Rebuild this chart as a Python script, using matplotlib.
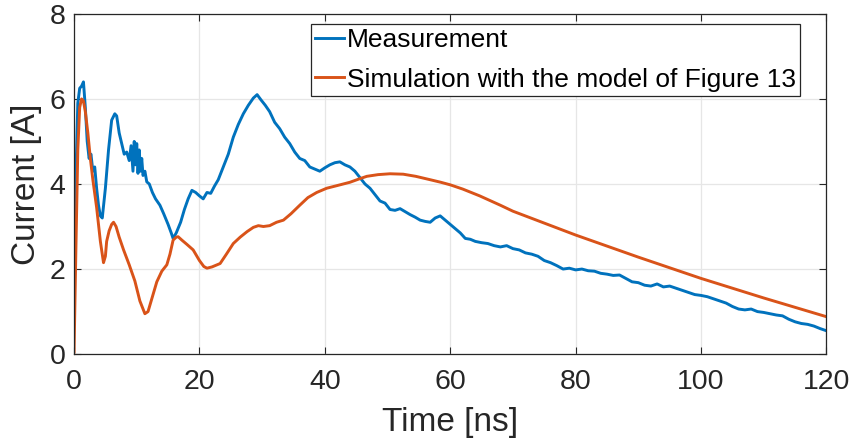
import matplotlib
matplotlib.use("Agg")
import matplotlib.pyplot as plt

# Measurement (blue)
meas_t = [0.0, 0.3, 0.6, 0.9, 1.2, 1.5, 1.8, 2.1, 2.4, 2.7, 3.0, 3.3, 3.6, 3.9, 4.2, 4.5,
          5.0, 5.5, 6.0, 6.5, 6.8, 7.2, 7.6, 8.0, 8.4, 8.8, 9.1, 9.4, 9.6, 9.8, 10.0,
          10.2, 10.4, 10.6, 10.8, 11.0, 11.3, 11.6, 12.0, 12.5, 13.0, 13.7, 14.3, 15.0,
          15.5, 15.8, 16.3, 17.0, 17.6, 18.2, 18.8, 19.4, 20.0, 20.6, 21.2, 21.8, 22.4,
          23.0, 23.8, 24.6, 25.4, 26.2, 27.0, 27.8, 28.6, 29.2, 29.8, 30.5, 31.2, 32.0,
          32.8, 33.6, 34.4, 35.2, 36.0, 36.8, 37.6, 38.4, 39.2, 40.0, 40.8, 41.6, 42.4,
          43.2, 44.0, 44.8, 45.6, 46.4, 47.2, 48.0, 48.8, 49.6, 50.4, 51.2, 52.0, 52.8,
          53.6, 54.4, 55.2, 56.0, 56.8, 57.6, 58.4, 59.2, 60.0, 60.8, 61.6, 62.4, 63.2,
          64.0, 65.0, 66.0, 67.0, 68.0, 69.0, 70.0, 71.0, 72.0, 73.0, 74.0, 75.0, 76.0,
          77.0, 78.0, 79.0, 80.0, 81.0, 82.0, 83.0, 84.0, 85.0, 86.0, 87.0, 88.0, 89.0,
          90.0, 91.0, 92.0, 93.0, 94.0, 95.0, 96.0, 97.0, 98.0, 99.0, 100.0, 101.0,
          102.0, 103.0, 104.0, 105.0, 106.0, 107.0, 108.0, 109.0, 110.0, 111.0, 112.0,
          113.0, 114.0, 115.0, 116.0, 117.0, 118.0, 119.0, 120.0]
meas_i = [2.15, 4.2, 5.9, 6.25, 6.3, 6.4, 5.8, 5.0, 4.6, 4.7, 4.3, 4.4, 3.9, 3.5, 3.25, 3.2,
          3.9, 4.8, 5.5, 5.65, 5.6, 5.2, 4.95, 4.7, 4.75, 4.55, 4.9, 4.3, 5.0, 4.45, 4.95,
          4.25, 4.8, 4.3, 4.6, 4.2, 4.3, 4.05, 4.0, 3.8, 3.65, 3.5, 3.3, 3.05,
          2.85, 2.72, 2.85, 3.1, 3.4, 3.65, 3.85, 3.8, 3.72, 3.65, 3.8, 3.78, 3.95,
          4.1, 4.4, 4.7, 5.1, 5.4, 5.65, 5.85, 6.02, 6.1, 5.98, 5.85, 5.7, 5.45,
          5.3, 5.1, 4.95, 4.75, 4.6, 4.55, 4.4, 4.35, 4.3, 4.38, 4.45, 4.5, 4.52,
          4.45, 4.4, 4.3, 4.15, 4.0, 3.9, 3.75, 3.6, 3.55, 3.4, 3.38, 3.42, 3.35,
          3.28, 3.22, 3.15, 3.12, 3.1, 3.2, 3.25, 3.15, 3.05, 2.95, 2.85, 2.72, 2.7,
          2.65, 2.62, 2.6, 2.55, 2.52, 2.55, 2.48, 2.45, 2.38, 2.35, 2.3, 2.2, 2.15,
          2.08, 2.0, 2.02, 1.98, 2.0, 1.96, 1.95, 1.9, 1.88, 1.85, 1.86, 1.78, 1.7,
          1.68, 1.62, 1.6, 1.65, 1.58, 1.6, 1.55, 1.5, 1.45, 1.4, 1.38, 1.35,
          1.3, 1.25, 1.2, 1.12, 1.06, 1.04, 1.06, 1.0, 0.98, 0.95, 0.92,
          0.9, 0.82, 0.76, 0.72, 0.7, 0.66, 0.6, 0.55]

# Simulation (orange)
sim_t = [0.0, 0.3, 0.6, 0.9, 1.2, 1.5, 1.8, 2.2, 2.6, 3.0, 3.6, 4.2, 4.7, 5.0, 5.2, 5.6,
         6.0, 6.3, 6.7, 7.2, 7.9, 8.8, 9.7, 10.5, 11.3, 11.8, 12.5, 13.2, 14.0, 14.8,
         15.3, 15.8, 16.3, 16.6, 17.2, 18.0, 19.0, 20.0, 20.7, 21.2, 22.0, 23.3,
         24.3, 25.4, 26.5, 27.6, 28.6, 29.4, 30.2, 31.2, 32.3, 33.4, 34.6, 36.0, 37.3,
         38.7, 40.3, 41.9, 44.0, 45.5, 46.7, 48.5, 50.4, 52.5, 54.5, 56.8, 58.5, 60.0,
         62.0, 64.7, 68.0, 70.0, 75.0, 80.0, 85.0, 90.0, 95.0, 100.0, 105.0, 110.0,
         115.0, 120.0]
sim_i = [0.05, 2.5, 4.8, 5.8, 6.0, 5.95, 5.7, 5.2, 4.6, 4.1, 3.45, 2.65, 2.15, 2.3, 2.65, 2.9,
         3.05, 3.1, 3.0, 2.75, 2.45, 2.1, 1.72, 1.25, 0.95, 1.0, 1.35, 1.7, 1.95, 2.1,
         2.35, 2.68, 2.75, 2.76, 2.68, 2.58, 2.45, 2.2, 2.06, 2.02, 2.05, 2.13,
         2.35, 2.6, 2.75, 2.88, 2.98, 3.02, 3.0, 3.02, 3.1, 3.15, 3.3, 3.5, 3.68,
         3.8, 3.9, 3.96, 4.04, 4.12, 4.18, 4.22, 4.24, 4.23, 4.18, 4.1, 4.04, 3.98,
         3.88, 3.72, 3.5, 3.36, 3.08, 2.8, 2.54, 2.28, 2.03, 1.78, 1.55, 1.32,
         1.1, 0.88]

x_ticks = [0, 20, 40, 60, 80, 100, 120]
y_ticks = [0, 2, 4, 6, 8]
labels = ["Measurement", "Simulation with the model of Figure 13"]

plt.rcParams['font.family'] = ['Liberation Sans', 'DejaVu Sans']

fig = plt.figure(figsize=(8.54, 4.46), dpi=100)
ax = fig.add_axes([0.0867, 0.206, 0.881, 0.763])

ax.plot(meas_t, meas_i, color='#0072BD', lw=2.1, label=labels[0])
ax.plot(sim_t, sim_i, color='#D95319', lw=2.1, label=labels[1])

ax.set_xlim(0, 120)
ax.set_ylim(0, 8)
ax.set_xticks(x_ticks)
ax.set_yticks(y_ticks)
ax.tick_params(direction='in', top=True, right=True, labelsize=20.5, length=5,
               color='#262626', labelcolor='#262626')
ax.tick_params(axis='x', pad=10.5)
ax.tick_params(axis='y', pad=6)
ax.grid(True, color='#e6e6e6', lw=0.9)
ax.set_axisbelow(True)
for s in ax.spines.values():
    s.set_color('#262626')
    s.set_linewidth(0.9)

ax.set_xlabel('Time [ns]', fontsize=24, color='#262626', labelpad=9)
ax.set_ylabel('Current [A]', fontsize=24, color='#262626', labelpad=6)

leg = ax.legend(loc='upper right', bbox_to_anchor=(0.9645, 0.9706), fontsize=19,
                handlelength=1.1, handletextpad=0.1, borderpad=0.15, labelspacing=0.6,
                fancybox=False, framealpha=1, edgecolor='#262626', borderaxespad=0)
leg.get_frame().set_linewidth(0.9)

fig.savefig('out.png', dpi=100)
